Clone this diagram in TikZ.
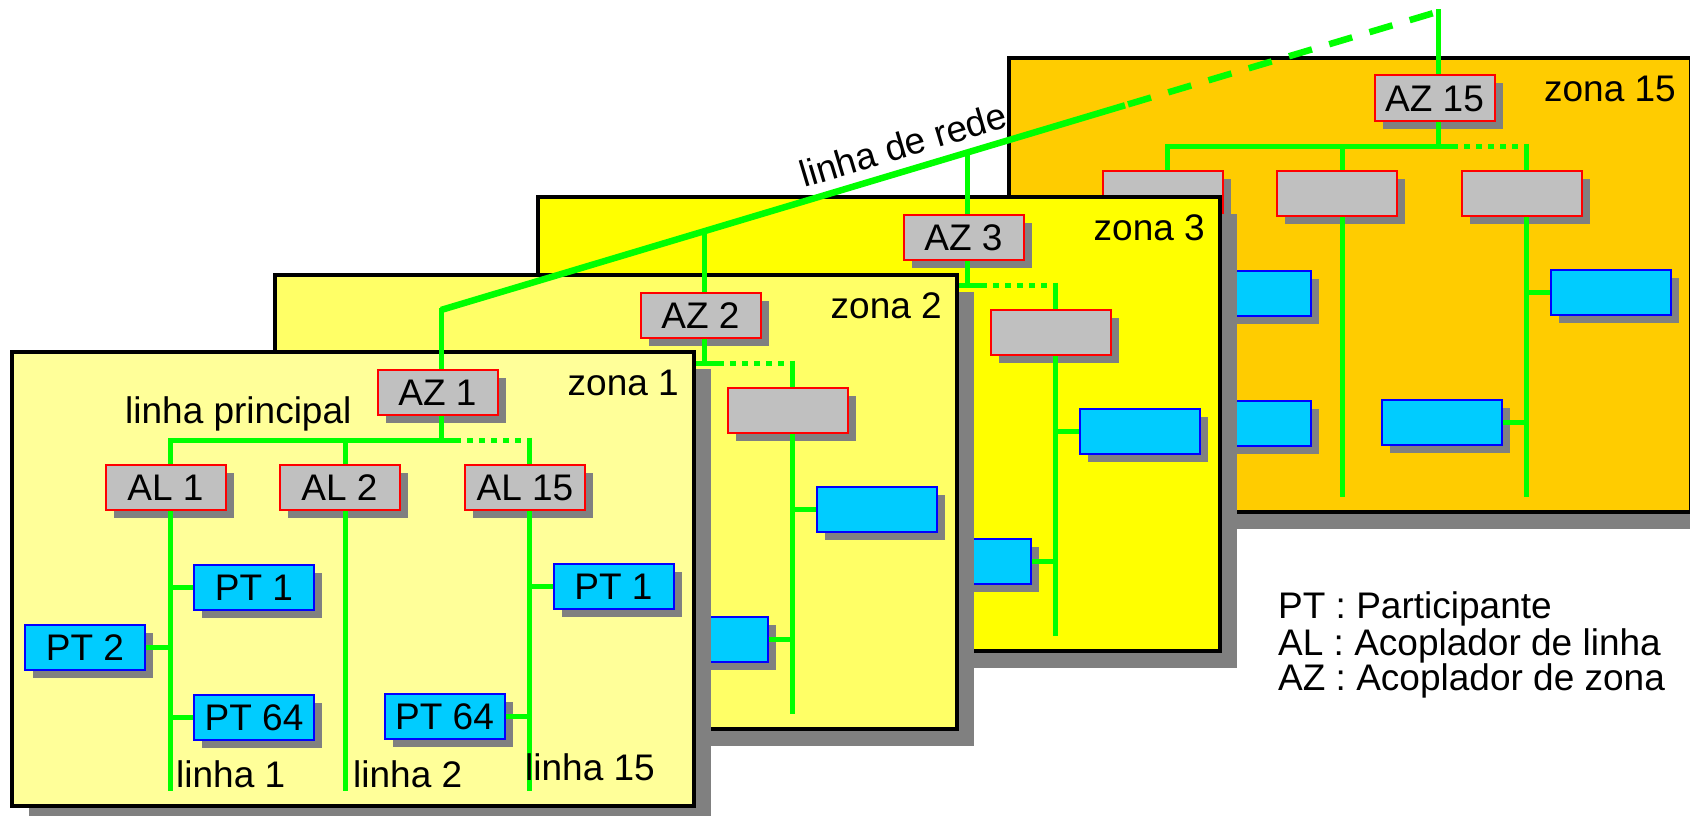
\documentclass[tikz,border=0pt]{standalone}
\usepackage{fontspec}
\setmainfont{Liberation Sans}
\usetikzlibrary{shadows}
\definecolor{zoneA}{HTML}{FFFF99}
\definecolor{zoneB}{HTML}{FFFF66}
\definecolor{zoneC}{HTML}{FFFF00}
\definecolor{zoneD}{HTML}{FFCC00}
\definecolor{shgray}{HTML}{808080}
\definecolor{boxgray}{HTML}{C0C0C0}
\definecolor{cyanc}{HTML}{00CCFF}
\definecolor{busgreen}{HTML}{00FF00}
\newcommand\dfont{\fontsize{37pt}{44pt}\selectfont}
\newif\ifzlabels

% #1 prefix, #2 shift, #3 fill colour, #4 zone label, #5 AZ label
\newcommand\drawzone[5]{%
\begin{scope}[shift={#2}]
 \fill[shgray] (29,369) rectangle (711,823);
 \draw[zframe, fill=#3] (12,352) rectangle (694,806);
 \coordinate (#1j) at (441,440);
 \coordinate (#1h1) at (170,440);
 \coordinate (#1h2) at (345,440);
 \coordinate (#1hd) at (455,440);
 \coordinate (#1h15) at (529,440);
 \coordinate (#1e1) at (170,791);
 \coordinate (#1e2) at (345,791);
 \coordinate (#1e15) at (529,791);
 \node[graybox] (#1az) at (437.5,392) {#5};
 \node[graybox] (#1al1) at (165.5,487.5) {\ifzlabels AL 1\fi};
 \node[graybox] (#1al2) at (339.5,487.5) {\ifzlabels AL 2\fi};
 \node[graybox] (#1al15) at (525,487.5) {\ifzlabels AL 15\fi};
 \node[cyanbox] (#1pa) at (254,587.5) {\ifzlabels PT 1\fi};
 \node[cyanbox] (#1pb) at (85,647.5) {\ifzlabels PT 2\fi};
 \node[cyanbox] (#1pc) at (254,717.5) {\ifzlabels PT 64\fi};
 \node[cyanbox] (#1pd) at (613.5,586.5) {\ifzlabels PT 1\fi};
 \node[cyanbox] (#1pe) at (444.5,716.5) {\ifzlabels PT 64\fi};
 \draw[bus] (#1az.south -| #1j) -- (#1j);
 \draw[bus] (#1al1.north -| #1h1) -- (#1h1) -- (#1hd);
 \draw[busdots] (#1hd) -- (#1h15);
 \draw[bus] (#1h2) -- (#1al2.north -| #1h2);
 \draw[bus] ([yshift=2.5pt]#1h15) -- (#1al15.north -| #1h15);
 \draw[bus] (#1al1.south -| #1h1) -- (#1e1);
 \draw[bus] (#1al2.south -| #1h2) -- (#1e2);
 \draw[bus] (#1al15.south -| #1h15) -- (#1e15);
 \draw[bus] (#1pa.west) -- (#1pa.west -| #1h1);
 \draw[bus] (#1pb.east) -- (#1pb.east -| #1h1);
 \draw[bus] (#1pc.west) -- (#1pc.west -| #1h1);
 \draw[bus] (#1pd.west) -- (#1pd.west -| #1h15);
 \draw[bus] (#1pe.east) -- (#1pe.east -| #1h15);
 \node[txt, anchor=base east] (#1lbl) at (679,395) {#4};
 \ifzlabels
 \node[txt] (#1lp) at (125,423) {linha principal};
 \node[txt] (#1l1) at (176,787) {linha 1};
 \node[txt] (#1l2) at (353,787) {linha 2};
 \node[txt] (#1l15) at (525,780) {linha 15};
 \fi
\end{scope}}

\begin{document}
\begin{tikzpicture}[x=1pt,y=-1pt, font=\dfont,
 zframe/.style={draw=black, line width=4pt},
 boxbase/.style={minimum width=120pt, minimum height=45pt, inner sep=0pt,
   line width=2pt, text height=26.5pt, text depth=0pt,
   drop shadow={shadow xshift=8pt, shadow yshift=-8pt, fill=shgray, opacity=1}},
 graybox/.style={boxbase, draw=red, fill=boxgray},
 cyanbox/.style={boxbase, draw=blue, fill=cyanc},
 bus/.style={draw=busgreen, line width=5pt},
 busdots/.style={bus, dash pattern=on 6pt off 6pt},
 rede/.style={draw=busgreen, line width=6.5pt},
 txt/.style={inner sep=0pt, anchor=base west},
]
\useasboundingbox (0,0) rectangle (1690,816);
\fill[white] (0,0) rectangle (1690,816);

\zlabelsfalse
\drawzone{zd}{(997,-294)}{zoneD}{zona 15}{AZ 15}
\drawzone{zc}{(526,-155)}{zoneC}{zona 3}{AZ 3}
\drawzone{zb}{(263,-77)}{zoneB}{zona 2}{AZ 2}
\zlabelstrue
\drawzone{za}{(0,0)}{zoneA}{zona 1}{AZ 1}

% linha de rede
\coordinate (r1) at (441,310);
\coordinate (r2) at (704,231.3);
\coordinate (r3) at (967,152.6);
\coordinate (rs) at (1125,105.3);
\coordinate (rd) at (1128,104.4);
\coordinate (rc) at (1438,11.7);
\draw[bus] ([yshift=2.5pt]r1) -- (r1 |- zaaz.north);
\draw[bus] (r2) -- (r2 |- zbaz.north);
\draw[bus] (r3) -- (r3 |- zcaz.north);
\draw[bus] ([yshift=2.5pt]rc) -- (rc |- zdaz.north);
\draw[rede] (r1) -- (rs);
\draw[rede, dash pattern=on 24pt off 18pt] (rd) -- (rc);
\node[anchor=base, rotate=16.7, inner sep=0pt] (redelbl) at (907,157) {linha de rede};

% legenda
\node[txt] (leg1) at (1278,618) {PT : Participante};
\node[txt] (leg2) at (1278,655) {AL : Acoplador de linha};
\node[txt] (leg3) at (1278,690) {AZ : Acoplador de zona};
\end{tikzpicture}
\end{document}
